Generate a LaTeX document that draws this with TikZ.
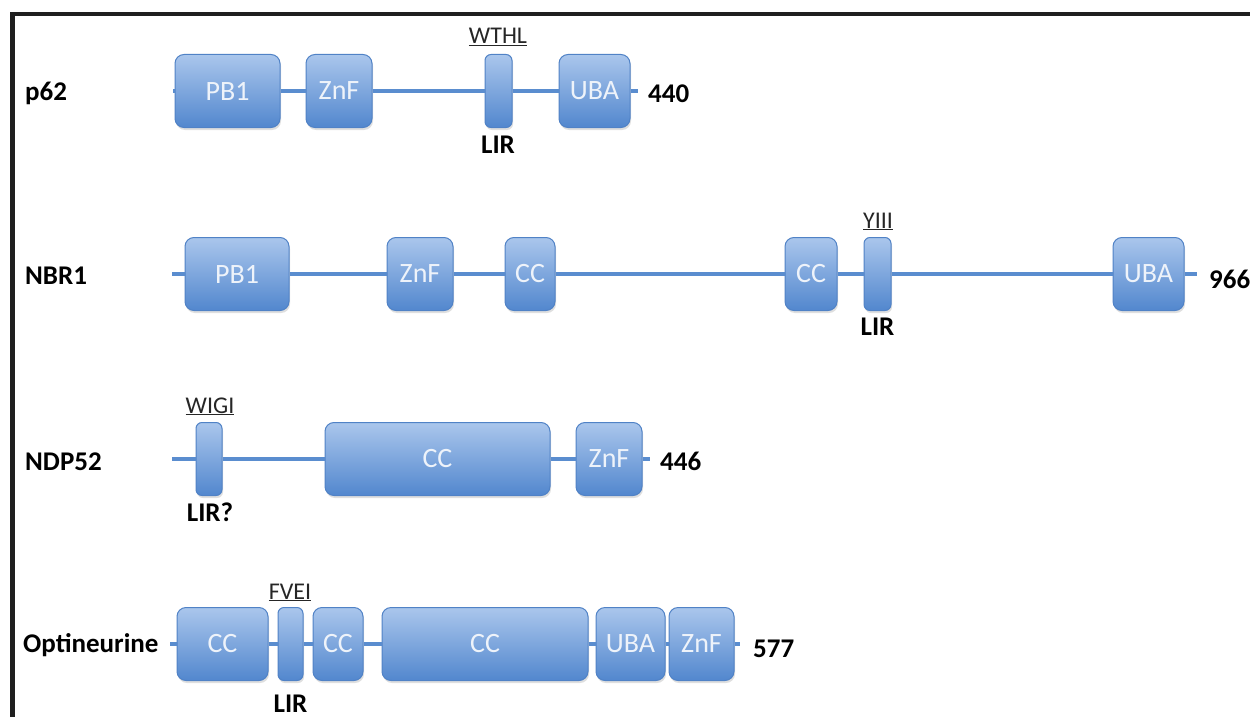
\documentclass[tikz,border=0pt]{standalone}
\usepackage{fontspec}
\setmainfont{Carlito}
\usetikzlibrary{shadows}
\definecolor{domtop}{RGB}{170,198,236}
\definecolor{dombot}{RGB}{82,135,206}
\definecolor{domline}{RGB}{80,130,198}
\definecolor{backbone}{RGB}{90,141,207}
\definecolor{domtext}{RGB}{238,243,250}
\begin{document}
\begin{tikzpicture}[x=1pt,y=-1pt,
  dom/.style={draw=domline, line width=1pt, rounded corners=9pt,
    top color=domtop, bottom color=dombot, minimum height=73pt,
    inner sep=0pt, text=domtext, font=\fontsize{28}{28}\selectfont,
    drop shadow={opacity=0.25, shadow xshift=1pt, shadow yshift=-2.5pt}},
  lir/.style={dom, rounded corners=6pt},
  bb/.style={draw=backbone, line width=3.2pt},
  lab/.style={font=\fontsize{27}{27}\selectfont\bfseries, anchor=base west, inner sep=0pt},
  clab/.style={font=\fontsize{27}{27}\selectfont\bfseries, anchor=base, inner sep=0pt},
  mot/.style={font=\fontsize{24}{24}\selectfont, anchor=base, inner sep=0pt, text=black!85}]
\useasboundingbox (0,0) rectangle (1250,717);
\fill[white] (0,0) rectangle (1250,717);
% frame
\draw[line width=4.5pt, black!88] (12.5,717) -- (12.5,14) -- (1250,14);

% ---------- p62 ----------
\node[lab] (n62) at (25,100) {p62};
\coordinate (s1) at (173,91);
\node[dom, minimum width=105pt] (a1) at (227.5,91) {PB1};
\node[dom, minimum width=66pt] (a2) at (339,91) {ZnF};
\node[lir, minimum width=27pt] (a3) at (498.5,91) {};
\node[dom, minimum width=71pt] (a4) at (594.5,91) {UBA};
\coordinate (e1) at (638,91);
\draw[bb] (s1) -- (a1) -- (a2) -- (a3) -- (a4) -- (e1);
\node[lab] (l440) at (648,102) {440};
\node[mot] (m1) at (498,44) {\underline{WTHL}};
\node[clab] (r1) at (498,153) {LIR};

% ---------- NBR1 ----------
\node[lab] (nnbr) at (25,284) {NBR1};
\coordinate (s2) at (172,274);
\node[dom, minimum width=104pt] (b1) at (237,274) {PB1};
\node[dom, minimum width=66pt] (b2) at (420,274) {ZnF};
\node[dom, minimum width=50pt] (b3) at (530,274) {CC};
\node[dom, minimum width=52pt] (b4) at (811,274) {CC};
\node[lir, minimum width=27pt] (b5) at (877.5,274) {};
\node[dom, minimum width=71pt] (b6) at (1148.5,274) {UBA};
\coordinate (e2) at (1197,274);
\draw[bb] (s2) -- (b1) -- (b2) -- (b3) -- (b4) -- (b5) -- (b6) -- (e2);
\node[lab] (l966) at (1209,288) {966};
\node[mot] (m2) at (878,228) {\underline{YIII}};
\node[clab] (r2) at (877.5,335) {LIR};

% ---------- NDP52 ----------
\node[lab] (nndp) at (25,470) {NDP52};
\coordinate (s3) at (172,459);
\node[lir, minimum width=26pt] (c1) at (209,459) {};
\node[dom, minimum width=225pt] (c2) at (437.5,459) {CC};
\node[dom, minimum width=66pt] (c3) at (609,459) {ZnF};
\coordinate (e3) at (650,459);
\draw[bb] (s3) -- (c1) -- (c2) -- (c3) -- (e3);
\node[lab] (l446) at (660,470) {446};
\node[mot] (m3) at (210,413) {\underline{WIGI}};
\node[clab] (r3) at (210,521) {LIR?};

% ---------- Optineurine ----------
\node[lab] (nopt) at (23,652) {Optineurine};
\coordinate (s4) at (170,644);
\node[dom, minimum width=91pt] (d1) at (222.5,644) {CC};
\node[lir, minimum width=25pt] (d2) at (290.5,644) {};
\node[dom, minimum width=50pt] (d3) at (338,644) {CC};
\node[dom, minimum width=206pt] (d4) at (485,644) {CC};
\node[dom, minimum width=69pt] (d5) at (630.5,644) {UBA};
\node[dom, minimum width=65pt] (d6) at (701.5,644) {ZnF};
\coordinate (e4) at (740,644);
\draw[bb] (s4) -- (d1) -- (d2) -- (d3) -- (d4) -- (d5) -- (d6) -- (e4);
\node[lab] (l577) at (753,657) {577};
\node[mot] (m4) at (290,599) {\underline{FVEI}};
\node[clab] (r4) at (290.5,712) {LIR};
\end{tikzpicture}
\end{document}
